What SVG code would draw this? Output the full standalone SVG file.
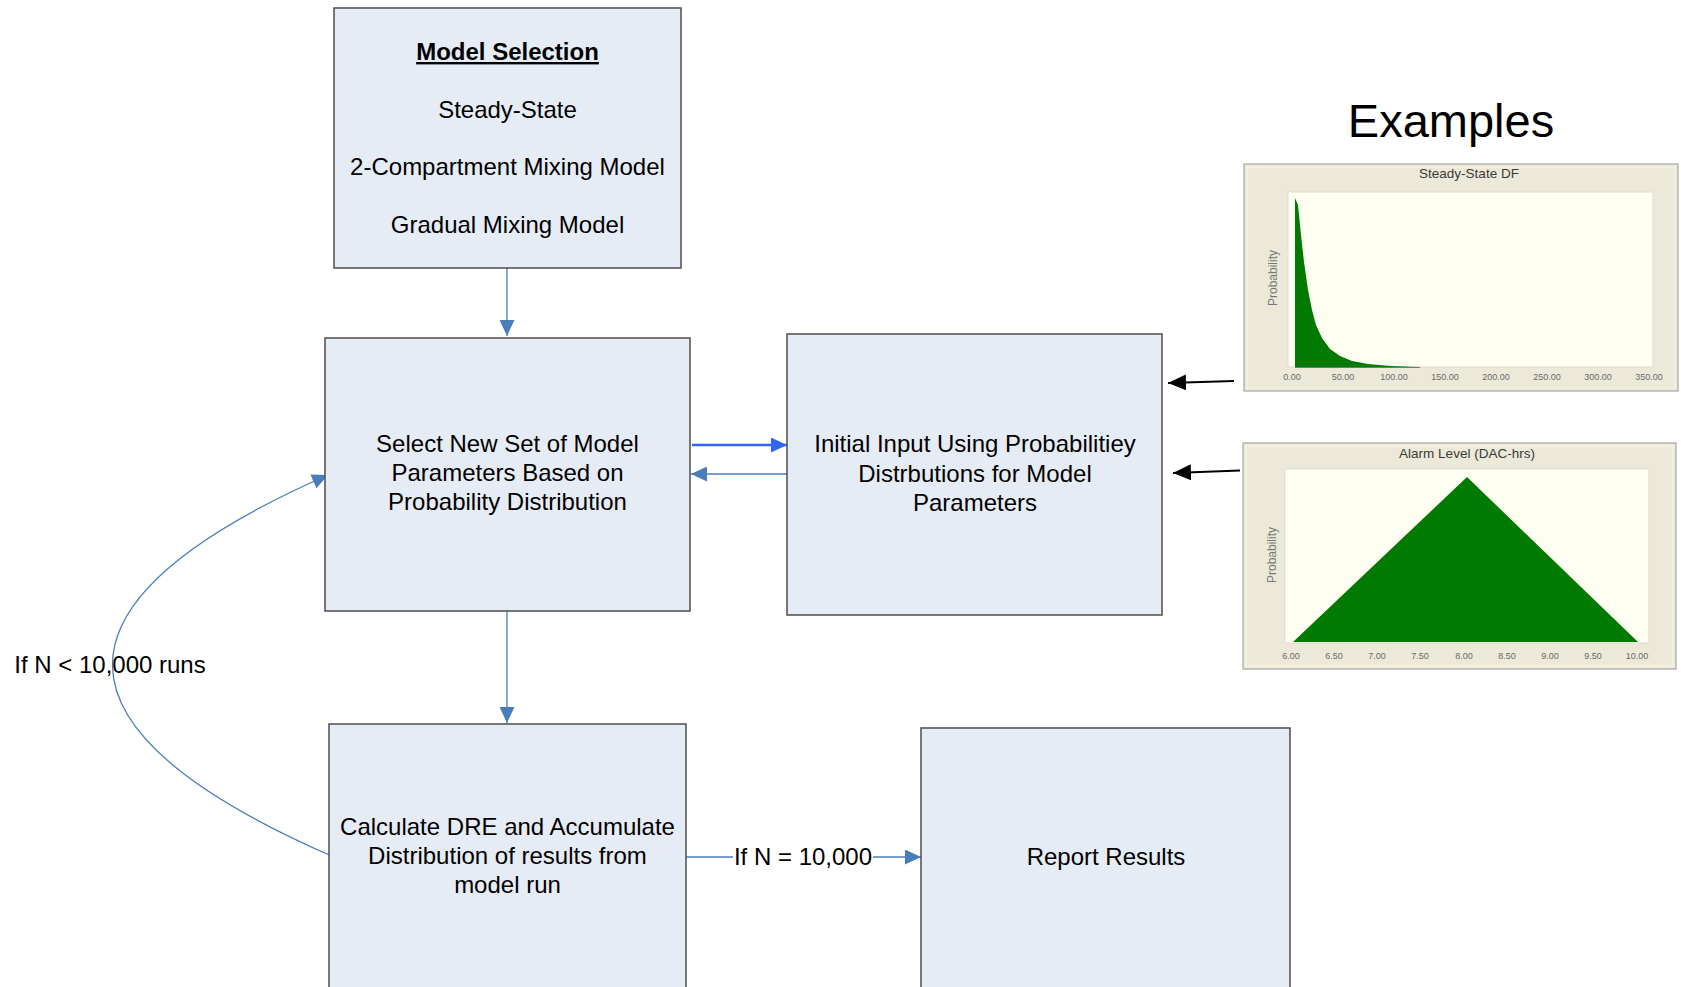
<svg xmlns="http://www.w3.org/2000/svg" width="1681" height="987" viewBox="0 0 1681 987">
<style>
  .box { fill: #E6ECF6; stroke: #4D4D4D; stroke-width: 1.5; }
  .t { font-family: "Liberation Sans", Arial, sans-serif; font-size: 24px; fill: #000; text-anchor: middle; }
  .conn { fill: none; stroke: #4A7EBB; stroke-width: 1.3; }
  .frame { fill: #ECE9D8; stroke: #A8A8A0; stroke-width: 1.2; }
  .plot { fill: #FEFEF1; stroke: #E0DDD0; stroke-width: 1; }
  .ct { font-family: "Liberation Sans", Arial, sans-serif; font-size: 13.5px; fill: #3A3A3A; text-anchor: middle; }
  .ax { font-family: "Liberation Sans", Arial, sans-serif; font-size: 9px; fill: #6A6A6A; text-anchor: middle; }
  .yl { font-family: "Liberation Sans", Arial, sans-serif; font-size: 12px; fill: #777; text-anchor: middle; }
</style>
<defs>
  <marker id="ah" markerUnits="userSpaceOnUse" markerWidth="16" markerHeight="15" refX="16" refY="7.5" orient="auto">
    <path d="M0,0 L16,7.5 L0,15 z" fill="#4A7EBB"/>
  </marker>
  <marker id="ahb" markerUnits="userSpaceOnUse" markerWidth="16" markerHeight="15" refX="16" refY="7.5" orient="auto">
    <path d="M0,0 L16,7.5 L0,15 z" fill="#3366F0"/>
  </marker>
  <marker id="ahk" markerUnits="userSpaceOnUse" markerWidth="18" markerHeight="16" refX="18" refY="8" orient="auto">
    <path d="M0,0 L18,8 L0,16 z" fill="#000"/>
  </marker>
</defs>
<rect width="1681" height="987" fill="#FFFFFF"/>

<g id="connectors">
  <line class="conn" x1="507" y1="268" x2="507" y2="336" marker-end="url(#ah)"/>
  <line class="conn" x1="507" y1="611" x2="507" y2="723" marker-end="url(#ah)"/>
  <line x1="692" y1="445" x2="787" y2="445" stroke="#3366F0" stroke-width="2.5" marker-end="url(#ahb)"/>
  <line class="conn" x1="787" y1="474" x2="691" y2="474" marker-end="url(#ah)"/>
  <path class="conn" d="M334,857 Q-106,666 328,475" marker-end="url(#ah)"/>
  <line class="conn" x1="686" y1="857" x2="733" y2="857"/>
  <line class="conn" x1="873" y1="857" x2="921" y2="857" marker-end="url(#ah)"/>
  <line x1="1234" y1="381" x2="1168" y2="383" stroke="#000" stroke-width="2.2" marker-end="url(#ahk)"/>
  <line x1="1240" y1="470.5" x2="1173" y2="473" stroke="#000" stroke-width="2.2" marker-end="url(#ahk)"/>
  <text class="t" x="110" y="673">If N &lt; 10,000 runs</text>
  <text class="t" x="803" y="865">If N = 10,000</text>
</g>

<g id="model-selection">
  <rect class="box" x="334" y="8" width="347" height="260"/>
  <text class="t" x="507.5" y="60" font-weight="bold" text-decoration="underline">Model Selection</text>
  <text class="t" x="507.5" y="118">Steady-State</text>
  <text class="t" x="507.5" y="175">2-Compartment Mixing Model</text>
  <text class="t" x="507.5" y="233">Gradual Mixing Model</text>
</g>

<g id="select-parameters">
  <rect class="box" x="325" y="338" width="365" height="273"/>
  <text class="t" x="507.5" y="452">Select New Set of Model</text>
  <text class="t" x="507.5" y="481">Parameters Based on</text>
  <text class="t" x="507.5" y="510">Probability Distribution</text>
</g>

<g id="initial-input">
  <rect class="box" x="787" y="334" width="375" height="281"/>
  <text class="t" x="975" y="452">Initial Input Using Probabilitiey</text>
  <text class="t" x="975" y="482">Distrbutions for Model</text>
  <text class="t" x="975" y="511">Parameters</text>
</g>

<g id="calculate-dre">
  <rect class="box" x="329" y="724" width="357" height="280"/>
  <text class="t" x="507.5" y="835">Calculate DRE and Accumulate</text>
  <text class="t" x="507.5" y="864">Distribution of results from</text>
  <text class="t" x="507.5" y="893">model run</text>
</g>

<g id="report-results">
  <rect class="box" x="921" y="728" width="369" height="280"/>
  <text class="t" x="1106" y="865">Report Results</text>
</g>

<g id="examples-title">
  <text x="1451" y="137" font-family="Liberation Sans, Arial, sans-serif" font-size="47" text-anchor="middle" fill="#000">Examples</text>
</g>

<g id="chart-steady-state">
  <rect class="frame" x="1244" y="164" width="434" height="227"/>
  <rect x="1247" y="167" width="428" height="221" fill="none" stroke="#F6F4EC" stroke-width="1"/>
  <rect class="plot" x="1288" y="192" width="365" height="175"/>
  <text class="ct" x="1469" y="178">Steady-State DF</text>
  <text class="yl" transform="translate(1277,278) rotate(-90)">Probability</text>
  <path d="M1295,367 L1295,198 L1298,205 L1301,235 L1304,262 L1308,290 L1312,310 L1316,325 L1322,338 L1330,349 L1340,356 L1352,361 L1368,364 L1390,366 L1420,367 Z" fill="#007A00"/>
  <line x1="1295" y1="367.5" x2="1420" y2="367.5" stroke="#777" stroke-width="1"/>
  <g class="ax">
    <text x="1292" y="380">0.00</text>
    <text x="1343" y="380">50.00</text>
    <text x="1394" y="380">100.00</text>
    <text x="1445" y="380">150.00</text>
    <text x="1496" y="380">200.00</text>
    <text x="1547" y="380">250.00</text>
    <text x="1598" y="380">300.00</text>
    <text x="1649" y="380">350.00</text>
  </g>
</g>

<g id="chart-alarm-level">
  <rect class="frame" x="1243" y="443" width="433" height="226"/>
  <rect x="1246" y="446" width="427" height="220" fill="none" stroke="#F6F4EC" stroke-width="1"/>
  <rect class="plot" x="1285" y="469" width="364" height="174"/>
  <text class="ct" x="1467" y="458">Alarm Level (DAC-hrs)</text>
  <text class="yl" transform="translate(1276,555) rotate(-90)">Probability</text>
  <path d="M1293,642 L1467,477 L1638,642 Z" fill="#007A00"/>
  <g class="ax">
    <text x="1291" y="659">6.00</text>
    <text x="1334" y="659">6.50</text>
    <text x="1377" y="659">7.00</text>
    <text x="1420" y="659">7.50</text>
    <text x="1464" y="659">8.00</text>
    <text x="1507" y="659">8.50</text>
    <text x="1550" y="659">9.00</text>
    <text x="1593" y="659">9.50</text>
    <text x="1637" y="659">10.00</text>
  </g>
</g>
</svg>
